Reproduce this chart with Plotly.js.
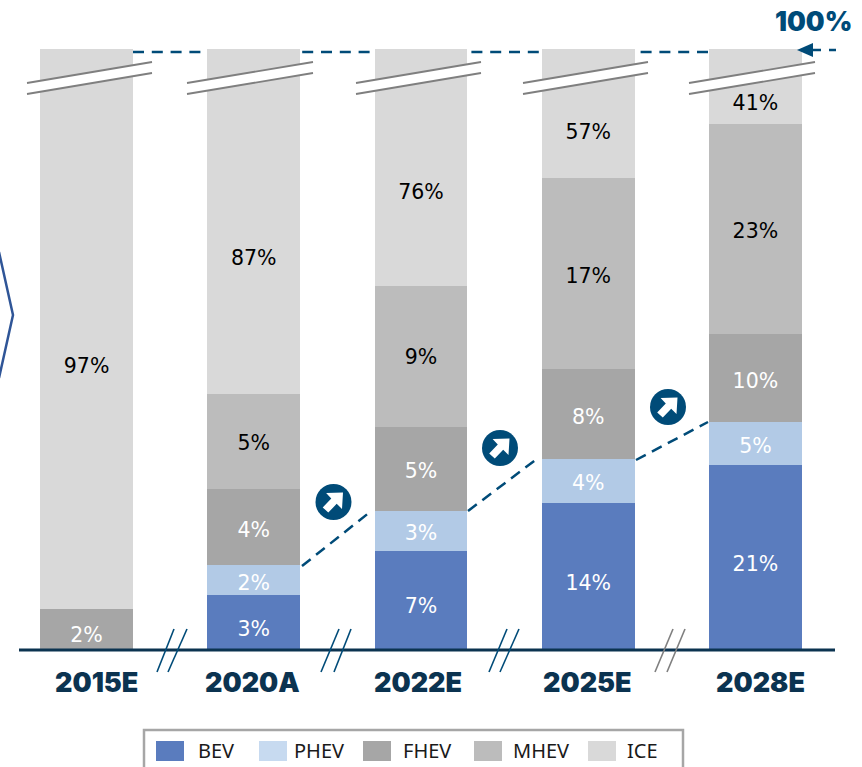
<!DOCTYPE html>
<html>
<head>
<meta charset="utf-8">
<script src="https://cdn.plot.ly/plotly-3.0.1.min.js"></script>
<style>html,body{margin:0;padding:0;background:#fff;overflow:hidden}</style>
</head>
<body>
<div id="chart" style="width:862px;height:767px"></div>
<script>
// Categories and series
const categories = ['2015E', '2020A', '2022E', '2025E', '2028E'];
const seriesNames = ['BEV', 'PHEV', 'FHEV', 'MHEV', 'ICE'];

// Drawn heights (share of the broken axis)
const bevHeight  = [null, 9.15, 16.5, 24.45, 30.8];
const phevHeight = [null, 5.0, 6.65, 7.3, 7.15];
const fhevHeight = [6.8, 12.65, 14.0, 15.0, 14.65];
const mhevHeight = [null, 15.8, 23.45, 31.8, 34.95];
const iceHeight  = [93.2, 57.4, 39.4, 21.45, 12.45];

// Printed labels
const bevLabel  = ['', '3%', '7%', '14%', '21%'];
const phevLabel = ['', '2%', '3%', '4%', '5%'];
const fhevLabel = ['2%', '4%', '5%', '8%', '10%'];
const mhevLabel = ['', '5%', '9%', '17%', '23%'];
const iceLabel  = ['97%', '87%', '76%', '57%', '41%'];

const barColors = ['#5a7cbe', '#b2cae6', '#a6a6a6', '#bcbcbc', '#d9d9d9'];
const swatchColors = ['#5a7cbe', '#c7daf0', '#a6a6a6', '#bcbcbc', '#d9d9d9'];
const labelColors = ['#ffffff', '#ffffff', '#ffffff', '#000000', '#000000'];
const NAVY = '#004b78', DARK = '#0b3350', GREY = '#7f7f7f';

// Plot frame
const W = 862, H = 767, mL = 3, mR = 23, mT = 49, mB = 117;
const pw = W - mL - mR, ph = H - mT - mB;
const fx = x => (x - mL) / pw;
const fy = y => (H - mB - y) / ph;

const heights = [bevHeight, phevHeight, fhevHeight, mhevHeight, iceHeight];
const labels = [bevLabel, phevLabel, fhevLabel, mhevLabel, iceLabel];
// Label placement relative to each segment's middle, in pixels downward
const labelShift = [
  [0, 8, 7, 8, 8],
  [0, 4.5, 4.5, 4, 4.5],
  [7.5, 4.5, 4.5, 4.5, 4.5],
  [0, 3, 3, 4.5, 4.5],
  [38.5, 38.5, 26, 20, 18]
];
const LABEL_FONT = 'DejaVu Sans, sans-serif';
const LABEL_SIZE = 20.5;

const traces = seriesNames.map((name, i) => ({
  type: 'bar', name, x: categories, y: heights[i],
  marker: {color: barColors[i], line: {width: 0}},
  hoverinfo: 'name+y'
}));
const stack = categories.map(() => 0);
seriesNames.forEach((name, i) => {
  const ys = categories.map((c, k) => {
    const h = heights[i][k] || 0;
    const mid = stack[k] + h / 2 - labelShift[i][k] * 100 / ph;
    stack[k] += h;
    return mid;
  });
  traces.push({
    type: 'scatter', mode: 'text', name: name + ' label', x: categories, y: ys,
    text: labels[i], textposition: 'middle center',
    textfont: {family: LABEL_FONT, size: LABEL_SIZE, color: labelColors[i]},
    hoverinfo: 'skip'
  });
});

const shapes = [];
function line(x0, y0, x1, y1, color, width, dash, layer) {
  shapes.push({type: 'line', xref: 'paper', yref: 'paper', x0: fx(x0), y0: fy(y0), x1: fx(x1), y1: fy(y1),
    line: {color, width, dash: dash || 'solid'}, layer: layer || 'above'});
}
function poly(points, fill) {
  const d = points.map((p, k) => (k ? 'L' : 'M') + fx(p[0]) + ',' + fy(p[1])).join(' ') + ' Z';
  shapes.push({type: 'path', xref: 'paper', yref: 'paper', path: d, fillcolor: fill, line: {width: 0}, layer: 'above'});
}

// 100% reference dashed line (behind bars)
line(133, 52, 798, 52, NAVY, 2.5, '11px,7.8px', 'below');
line(813, 50, 821, 50, NAVY, 2.5);
line(829, 50, 836, 50, NAVY, 2.5);
poly([[797, 50], [813, 43], [813, 57]], NAVY);

// Top axis-break marks
[[27, 152], [187, 313], [356, 481], [523, 648], [689, 815]].forEach(b => {
  poly([[b[0], 83], [b[1], 62], [b[1], 73], [b[0], 94]], '#ffffff');
  line(b[0], 83, b[1], 62, GREY, 1.8);
  line(b[0], 94, b[1], 73, GREY, 1.8);
});

// Baseline
line(19, 650, 835, 650, DARK, 3);

// Baseline break marks
[[157, 174, 168, 187, NAVY], [321, 339, 334, 351, NAVY], [489, 507, 500, 519, NAVY], [655, 673, 667, 685, GREY]].forEach(s => {
  line(s[0], 672, s[1], 629, s[4], 1.6);
  line(s[2], 672, s[3], 629, s[4], 1.6);
});

// Growth connector lines
line(302, 566, 370, 512, NAVY, 2.5, '11px,7px');
line(468, 511, 538, 458, NAVY, 2.5, '11px,7px');
line(636, 460, 708, 422, NAVY, 2.5, '11px,7px');

// Circular arrow badges
[[333.5, 502], [500, 448], [668, 407]].forEach(c => {
  shapes.push({type: 'circle', xref: 'paper', yref: 'paper',
    x0: fx(c[0] - 18), x1: fx(c[0] + 18), y0: fy(c[1] - 18), y1: fy(c[1] + 18),
    fillcolor: NAVY, line: {width: 0}, layer: 'above'});
  poly([[9.5, -9.5], [8.5, 7], [3.2, 1.8], [-5.2, 10.6], [-10.8, 5.4], [-2.2, -3.4], [-7.4, -9]]
    .map(p => [c[0] + p[0], c[1] + p[1]]), '#ffffff');
});

// Left chevron
shapes.push({type: 'path', xref: 'paper', yref: 'paper',
  path: 'M' + fx(-1) + ',' + fy(252) + ' L' + fx(13) + ',' + fy(315) + ' L' + fx(-1) + ',' + fy(378),
  line: {color: '#2f5597', width: 2.5}, layer: 'above'});

// Legend
shapes.push({type: 'path', xref: 'paper', yref: 'paper',
  path: 'M' + fx(144) + ',' + fy(770) + ' L' + fx(144) + ',' + fy(730) + ' L' + fx(683) + ',' + fy(730) + ' L' + fx(683) + ',' + fy(770),
  line: {color: '#a6a6a6', width: 2.5}, layer: 'above'});
const swatchX = [156, 259, 363, 474, 588];
const legendTextX = [196, 292, 401, 511, 625];
const annotations = [];
seriesNames.forEach((n, i) => {
  poly([[swatchX[i], 741], [swatchX[i] + 28, 741], [swatchX[i] + 28, 761], [swatchX[i], 761]], swatchColors[i]);
  annotations.push({xref: 'paper', yref: 'paper', x: fx(legendTextX[i]), y: fy(750.5), xanchor: 'left', yanchor: 'middle',
    text: n, showarrow: false, font: {family: 'Noto Sans, sans-serif', size: 20, color: '#1a1a1a'}});
});
annotations.push({xref: 'paper', yref: 'paper', x: fx(813), y: fy(21), xanchor: 'center', yanchor: 'middle',
  text: '100%', showarrow: false, font: {family: 'Inter, sans-serif', size: 26.5, color: NAVY, weight: 900}});

// Category captions, placed as in the picture (not all centred under their bars)
const captionShift = [10, -1, -3, -1, 5];
categories.forEach((c, i) => {
  annotations.push({xref: 'x', yref: 'paper', x: i, y: fy(682), xshift: captionShift[i], xanchor: 'center', yanchor: 'middle',
    text: c, showarrow: false, font: {family: 'Inter, sans-serif', size: 27, color: DARK, weight: 900}});
});

const layout = {
  width: W, height: H,
  margin: {l: mL, r: mR, t: mT, b: mB, pad: 0},
  paper_bgcolor: '#ffffff', plot_bgcolor: '#ffffff',
  barmode: 'stack', bargap: 0.444, showlegend: false,
  xaxis: {type: 'category', categoryorder: 'array', categoryarray: categories, range: [-0.5, 4.5],
    showgrid: false, zeroline: false, showline: false, ticks: '', showticklabels: false},
  yaxis: {range: [0, 100], visible: false, fixedrange: true},
  shapes, annotations
};
Plotly.newPlot('chart', traces, layout, {displayModeBar: false, staticPlot: true});
</script>
</body>
</html>
